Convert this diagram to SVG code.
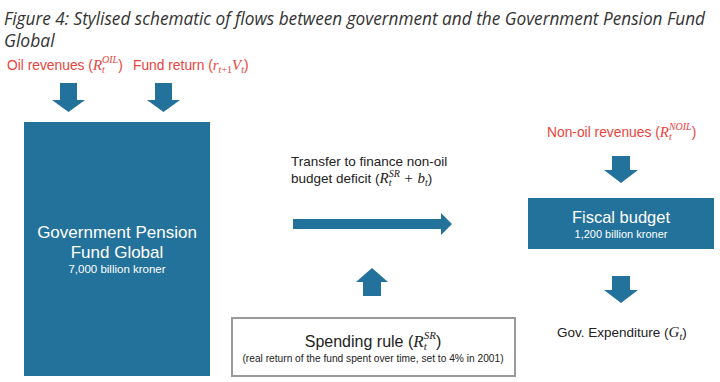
<svg xmlns="http://www.w3.org/2000/svg" width="720" height="382" viewBox="0 0 720 382">
<defs>
<style>
.title{font-family:"Open Sans","Liberation Sans",sans-serif;font-style:italic;font-size:17.5px;fill:#333}
.red{font-family:"Liberation Sans",Arial,sans-serif;font-size:13.8px;fill:#e8443c}
.lbl{font-family:"Liberation Sans",Arial,sans-serif;font-size:13.5px;fill:#222}
.m{font-family:"Liberation Serif","Times New Roman",serif;font-style:italic;font-size:15px}
.s{font-size:10px}
.wh{font-family:"Liberation Sans",Arial,sans-serif;fill:#fff;text-anchor:middle}
.box{fill:#23729b}
.arr{fill:#23729b}
</style>
</defs>
<rect width="720" height="382" fill="#fff"/>
<text class="title" x="4" y="25" textLength="701" lengthAdjust="spacingAndGlyphs">Figure 4: Stylised schematic of flows between government and the Government Pension Fund</text>
<text class="title" x="4" y="47">Global</text>

<g id="oil-revenues">
<text class="red" x="7" y="70">Oil revenues (<tspan class="m">R</tspan><tspan class="m s" dy="3">t</tspan><tspan class="m s" dx="-2.8" dy="-10">OIL</tspan><tspan dy="7">)</tspan></text>
</g>
<g id="fund-return">
<text class="red" x="133" y="70">Fund return (<tspan class="m">r</tspan><tspan class="m s" dy="3">t</tspan><tspan class="s" font-family="Liberation Serif">+1</tspan><tspan class="m" dy="-3">V</tspan><tspan class="m s" dy="3">t</tspan><tspan dy="-3">)</tspan></text>
</g>

<g id="gpfg">
<rect class="box" x="24" y="122" width="186" height="254"/>
<text class="wh" x="117" y="238" style="font-size:17px">Government Pension</text>
<text class="wh" x="117" y="258" style="font-size:17px">Fund Global</text>
<text class="wh" x="117" y="273" style="font-size:11.5px">7,000 billion kroner</text>
</g>

<g id="transfer-label">
<text class="lbl" x="291" y="166">Transfer to finance non-oil</text>
<text class="lbl" x="291" y="183">budget deficit (<tspan class="m">R</tspan><tspan class="m s" dy="3">t</tspan><tspan class="m s" dx="-2.8" dy="-9">SR</tspan><tspan class="m" dy="6"> + b</tspan><tspan class="m s" dy="3">t</tspan><tspan dy="-3">)</tspan></text>
</g>

<g id="spending-rule">
<rect x="232" y="318" width="283" height="58" fill="#fff" stroke="#9a9a9a" stroke-width="2"/>
<text class="lbl" x="373" y="347" text-anchor="middle" style="font-size:16px">Spending rule (<tspan class="m" style="font-size:17px">R</tspan><tspan class="m s" dy="3" style="font-size:11px">t</tspan><tspan class="m s" dx="-3" dy="-11" style="font-size:11px">SR</tspan><tspan dy="8">)</tspan></text>
<text class="lbl" x="373" y="362" text-anchor="middle" style="font-size:10.2px">(real return of the fund spent over time, set to 4% in 2001)</text>
</g>

<g id="non-oil-revenues">
<text class="red" x="547" y="137">Non-oil revenues (<tspan class="m">R</tspan><tspan class="m s" dy="3">t</tspan><tspan class="m s" dx="-2.8" dy="-10">NOIL</tspan><tspan dy="7">)</tspan></text>
</g>

<g id="fiscal-budget">
<rect class="box" x="528" y="198" width="186" height="51"/>
<text class="wh" x="621" y="223" style="font-size:16.5px">Fiscal budget</text>
<text class="wh" x="621" y="238" style="font-size:11px">1,200 billion kroner</text>
</g>

<g id="gov-expenditure">
<text class="lbl" x="557" y="337">Gov. Expenditure (<tspan class="m">G</tspan><tspan class="m s" dy="3">t</tspan><tspan dy="-3">)</tspan></text>
</g>

<g id="connectors">
<polygon class="arr" points="60,83 77,83 77,100 85,100 68.5,112 52,100 60,100"/>
<polygon class="arr" points="155,83 172,83 172,100 180,100 163.5,112 147,100 155,100"/>
<polygon class="arr" points="612,156 630,156 630,170 638,170 621,183 604,170 612,170"/>
<polygon class="arr" points="612,276 630,276 630,290 638,290 621,303 604,290 612,290"/>
<polygon class="arr" points="363,296 381,296 381,282 388,282 372,268 356,282 363,282"/>
<polygon class="arr" points="293,219 441,219 441,213 452,224 441,235 441,229 293,229"/>
</g>
</svg>
